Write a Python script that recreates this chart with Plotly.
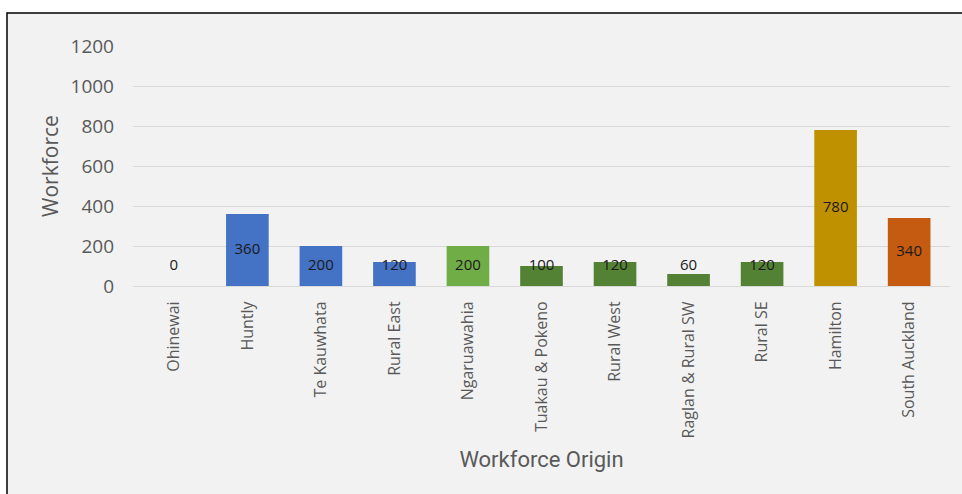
import plotly.graph_objects as go

categories = ["Ohinewai", "Huntly", "Te Kauwhata", "Rural East", "Ngaruawahia",
              "Tuakau & Pokeno", "Rural West", "Raglan & Rural SW", "Rural SE",
              "Hamilton", "South Auckland"]
workforce = [0, 360, 200, 120, 200, 100, 120, 60, 120, 780, 340]
bar_colors = ["#4472C4", "#4472C4", "#4472C4", "#4472C4", "#70AD47",
              "#548235", "#548235", "#548235", "#548235", "#BF9000", "#C55A11"]
y_ticks = [0, 200, 400, 600, 800, 1000, 1200]

W, H = 962, 494
ml, mr, mt, mb = 133, 12, 46, 208
pw = W - ml - mr
ph = H - mt - mb

# label positions: centred in bar, but lifted when the bar is too short
label_y = [max(v / 2, 100) for v in workforce]

fig = go.Figure()
fig.add_trace(go.Bar(
    x=categories, y=workforce, marker_color=bar_colors, marker_line_width=0,
    width=0.58, hoverinfo="x+y", showlegend=False,
))
fig.add_trace(go.Scatter(
    x=categories, y=label_y, mode="text", text=[str(v) for v in workforce],
    textfont=dict(family="Open Sans, sans-serif", size=15, color="#1a1a1a"),
    textposition="middle center", showlegend=False, hoverinfo="skip",
))

fig.update_layout(
    width=W, height=H,
    margin=dict(l=ml, r=mr, t=mt, b=mb, pad=0),
    paper_bgcolor="white", plot_bgcolor="rgba(0,0,0,0)",
    xaxis=dict(
        tickangle=-90, tickfont=dict(family="Open Sans, sans-serif", size=16, color="#595959"),
        showgrid=False, showline=True, linecolor="#d9d9d9", linewidth=1,
        ticks="", ticklabelstandoff=8,
        title=dict(text="Workforce Origin", standoff=14,
                   font=dict(family="Roboto, sans-serif", size=22, color="#595959")),
    ),
    yaxis=dict(
        range=[0, 1200], tickvals=y_ticks, showgrid=True, gridcolor="#d9d9d9", gridwidth=1,
        zeroline=False, showline=False, ticks="", ticklabelstandoff=18,
        tickfont=dict(family="Open Sans, sans-serif", size=19, color="#595959"),
        title=dict(text="Workforce", standoff=6,
                   font=dict(family="Open Sans, sans-serif", size=21, color="#595959")),
    ),
    shapes=[dict(
        type="rect", xref="paper", yref="paper", layer="below",
        x0=(7 - ml) / pw, x1=(W + 5 - ml) / pw,
        y0=-(mb + 5) / ph, y1=(H - 13 - mb) / ph,
        fillcolor="#f2f2f2", line=dict(color="black", width=1.5),
    )],
)

fig.write_html("out.html", config={"displayModeBar": False},
               post_script="document.body.style.margin='0';")
